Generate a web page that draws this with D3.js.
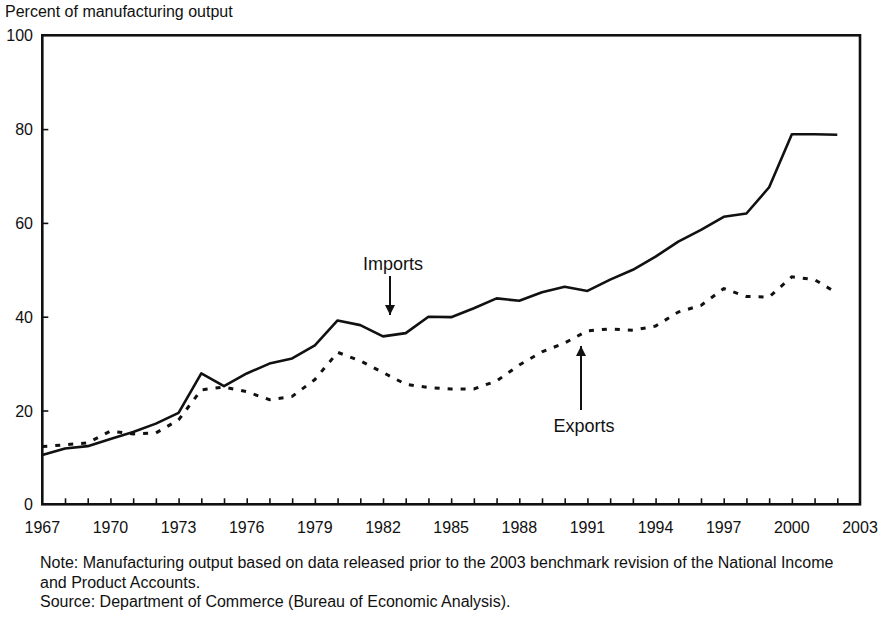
<!DOCTYPE html>
<html>
<head>
<meta charset="utf-8">
<script src="https://cdn.jsdelivr.net/npm/d3@7"></script>
<style>
	body { margin: 0; background: #fff; }
	svg text { font-family: "Liberation Sans", Arial, sans-serif; fill: #111; }
</style>
</head>
<body>
<div id="chart"></div>
<script>
var years = d3.range(1967, 2003);
var imports = [10.5, 11.9, 12.4, 13.9, 15.4, 17.2, 19.5, 27.9, 25.2, 27.9,
	30.0, 31.1, 33.9, 39.2, 38.2, 35.8, 36.5, 40.0, 39.9, 41.8,
	43.9, 43.4, 45.2, 46.4, 45.5, 47.9, 50.0, 52.8, 56.0, 58.5,
	61.3, 62.0, 67.6, 78.9, 78.9, 78.8];
var exports = [12.3, 12.7, 13.1, 15.6, 15.0, 15.2, 18.0, 24.4, 25.0, 24.0,
	22.3, 23.0, 26.6, 32.4, 30.6, 28.1, 25.6, 24.9, 24.6, 24.6,
	26.3, 29.7, 32.5, 34.4, 37.0, 37.4, 37.1, 38.0, 41.0, 42.4,
	46.0, 44.3, 44.2, 48.5, 47.9, 45.0];
var xTickLabels = d3.range(1967, 2004, 3);
var yTickLabels = [0, 20, 40, 60, 80, 100];
var notes = [
	"Note: Manufacturing output based on data released prior to the 2003 benchmark revision of the National Income",
	"and Product Accounts.",
	"Source: Department of Commerce (Bureau of Economic Analysis)."
];

var width = 886, height = 617;
var svg = d3.select("#chart").append("svg")
	.attr("width", width)
	.attr("height", height);

//Scales
var x = d3.scaleLinear().domain([1967, 2003]).range([42.3, 860]);
var y = d3.scaleLinear().domain([0, 100]).range([504.3, 35.3]);

//Frame
svg.append("rect")
	.attr("x", x(1967)).attr("y", y(100))
	.attr("width", x(2003) - x(1967)).attr("height", y(0) - y(100))
	.style("fill", "none").style("stroke", "#111").style("stroke-width", 2.6);

//x axis: a tick every year, labels every 3 years
var xAxis = svg.append("g")
	.attr("transform", "translate(0," + y(0) + ")")
	.call(d3.axisBottom(x).tickValues(d3.range(1968, 2003)).tickSize(-6).tickFormat(""));
xAxis.select(".domain").remove();
xAxis.selectAll("line").style("stroke", "#111").style("stroke-width", 1.6);

svg.selectAll(".x-label")
	.data(xTickLabels)
	.enter().append("text")
	.attr("class", "x-label")
	.attr("x", function(d) { return x(d); })
	.attr("y", 533)
	.attr("text-anchor", "middle")
	.style("font-size", "16px")
	.text(function(d) { return d; });

//y axis
var yAxis = svg.append("g")
	.attr("transform", "translate(" + x(1967) + ",0)")
	.call(d3.axisLeft(y).tickValues([20, 40, 60, 80]).tickSize(-6).tickFormat(""));
yAxis.select(".domain").remove();
yAxis.selectAll("line").style("stroke", "#111").style("stroke-width", 1.6);

svg.selectAll(".y-label")
	.data(yTickLabels)
	.enter().append("text")
	.attr("class", "y-label")
	.attr("x", 33)
	.attr("y", function(d) { return y(d) + 6; })
	.attr("text-anchor", "end")
	.style("font-size", "16px")
	.text(function(d) { return d; });

svg.append("text")
	.attr("x", 5)
	.attr("y", 17)
	.style("font-size", "16px")
	.text("Percent of manufacturing output");

//Lines
var line = d3.line()
	.x(function(d, i) { return x(years[i]); })
	.y(function(d) { return y(d); });

svg.append("path")
	.datum(exports)
	.attr("d", line)
	.style("fill", "none")
	.style("stroke", "#111")
	.style("stroke-width", 3)
	.style("stroke-dasharray", "5,8");

svg.append("path")
	.datum(imports)
	.attr("d", line)
	.style("fill", "none")
	.style("stroke", "#111")
	.style("stroke-width", 2.6)
	.style("stroke-linejoin", "round");

//Annotations
svg.append("defs").append("marker")
	.attr("id", "arrow")
	.attr("viewBox", "0 0 10 10")
	.attr("refX", 10).attr("refY", 5)
	.attr("markerWidth", 5).attr("markerHeight", 5)
	.attr("markerUnits", "strokeWidth")
	.attr("orient", "auto")
	.append("path")
	.attr("d", "M0,0L10,5L0,10Z")
	.style("fill", "#111");

svg.append("text")
	.attr("x", 393).attr("y", 270)
	.attr("text-anchor", "middle")
	.style("font-size", "18px")
	.text("Imports");
svg.append("line")
	.attr("x1", 390).attr("y1", 276)
	.attr("x2", 390).attr("y2", 315)
	.style("stroke", "#111").style("stroke-width", 2)
	.attr("marker-end", "url(#arrow)");

svg.append("text")
	.attr("x", 584).attr("y", 432)
	.attr("text-anchor", "middle")
	.style("font-size", "18px")
	.text("Exports");
svg.append("line")
	.attr("x1", 581).attr("y1", 410)
	.attr("x2", 581).attr("y2", 346)
	.style("stroke", "#111").style("stroke-width", 2)
	.attr("marker-end", "url(#arrow)");

//Notes
svg.selectAll(".note")
	.data(notes)
	.enter().append("text")
	.attr("class", "note")
	.attr("x", 40)
	.attr("y", function(d, i) { return 568 + i * 19.5; })
	.style("font-size", "16px")
	.text(function(d) { return d; });
</script>
</body>
</html>
